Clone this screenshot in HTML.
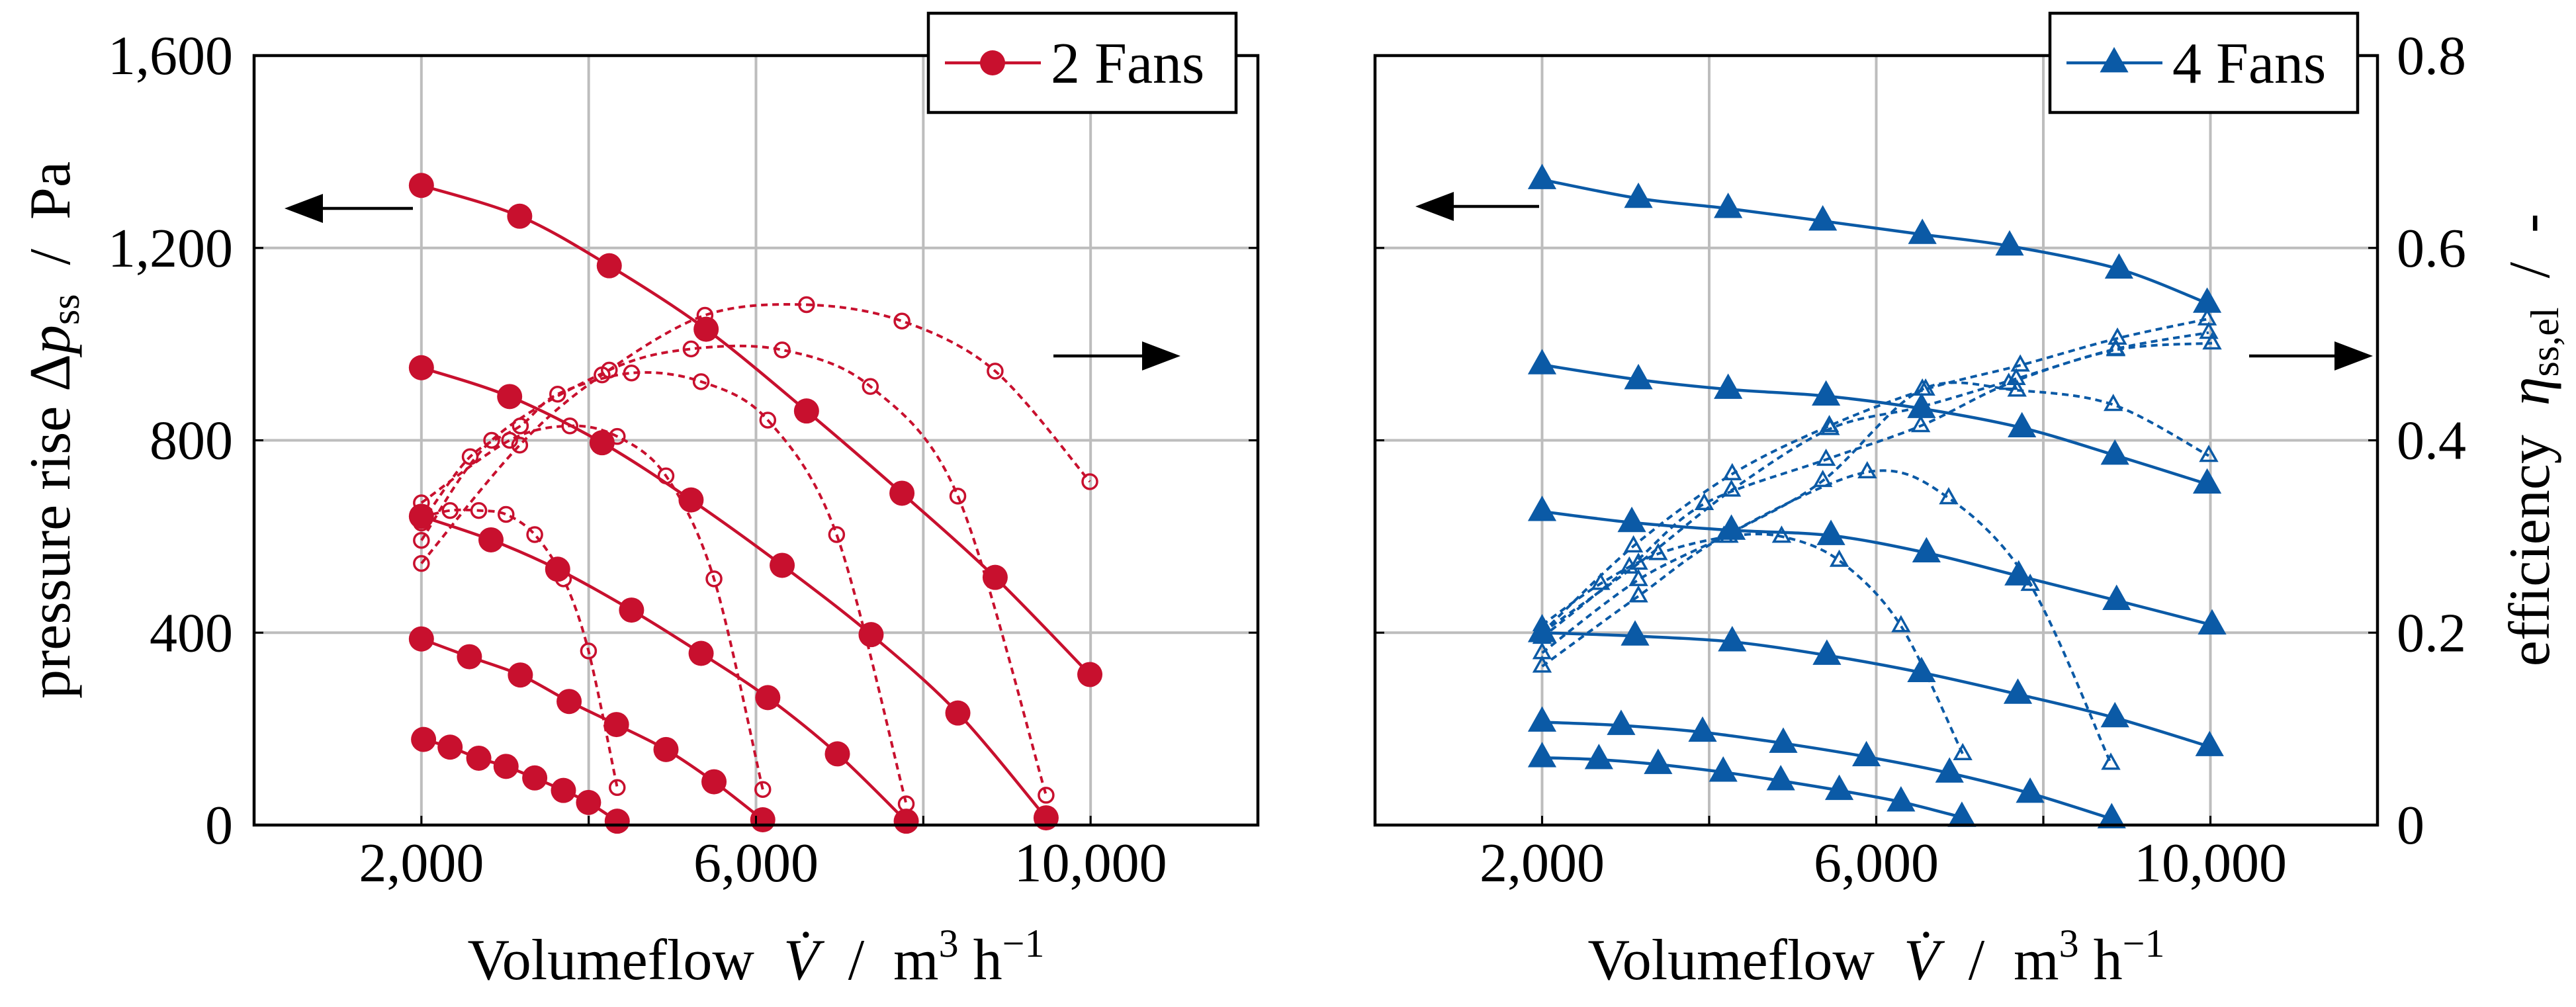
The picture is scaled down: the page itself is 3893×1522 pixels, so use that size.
<!DOCTYPE html>
<html><head><meta charset="utf-8"><style>
html,body{margin:0;padding:0;background:#fff}
svg{display:block}
text{font-family:"Liberation Serif",serif;fill:#000;white-space:pre}
</style></head><body>
<svg id="chart" xmlns="http://www.w3.org/2000/svg" width="3893" height="1522" viewBox="0 0 3893 1522">
<rect width="3893" height="1522" fill="#fff"/>
<g id="root"></g>
</svg>
<script>
const xTicks=[2000,4000,6000,8000,10000];
const xTickLabels=["2,000","","6,000","","10,000"];
const pTicks=[0,400,800,1200,1600];
const pTickLabels=["0","400","800","1,200","1,600"];
const etaTicks=[0,0.2,0.4,0.6,0.8];
const etaTickLabels=["0","0.2","0.4","0.6","0.8"];

// 2 fans: pressure curves
const p2x=[[2000,3175,4246,5404,6604,7745,8859,9991],[2000,3055,4160,5224,6313,7376,8413,9468],[2000,2832,3629,4512,5344,6141,6973,7796],[2000,2574,3183,3766,4332,4924,5498,6081],[2026,2343,2686,3012,3355,3698,3998,4341]];
const p2y=[[1330,1266,1163,1031,861,690,515,313],[951,891,795,676,540,396,233,15],[642,593,532,447,357,265,148,8],[387,350,312,257,209,157,90,11],[178,162,139,122,98,72,47,8]];
// 2 fans: efficiency curves
const e2x=[[2000,3175,4160,5390,6604,7745,8859,9991],[2000,2840,4246,5224,6313,7367,8413,9468],[2000,2583,3183,3629,4512,5344,6141,6964,7796],[2000,3055,3775,4341,4924,5498,6081],[2000,2343,2686,3012,3355,3698,3998,4341]];
const e2y=[[0.272,0.395,0.468,0.53,0.541,0.524,0.472,0.357],[0.296,0.40,0.473,0.495,0.494,0.456,0.342,0.031],[0.314,0.383,0.415,0.448,0.47,0.461,0.421,0.302,0.022],[0.335,0.40,0.415,0.404,0.363,0.256,0.037],[0.32,0.327,0.327,0.323,0.302,0.256,0.181,0.039]];
// 4 fans: pressure curves
const p4x=[[2000,3153,4227,5360,6552,7596,8906,9961],[2000,3153,4227,5399,6542,7744,8857,9961],[2000,3074,4266,5458,6601,7705,8877,10020],[2000,3113,4276,5409,6542,7695,8857,9990],[2000,2946,3921,4887,5882,6877,7842,8818],[2000,2680,3389,4168,4857,5557,6296,7025]];
const p4y=[[1342,1303,1282,1256,1228,1204,1156,1085],[957,926,906,892,866,826,769,709],[652,629,613,602,566,518,467,416],[400,393,381,353,317,272,223,163],[214,207,193,170,142,108,66,13],[140,136,126,110,92,72,48,16]];
// 4 fans: efficiency curves
const e4x=[[2000,3094,4276,5438,6591,7724,8887,9961],[2000,3153,4266,5448,6542,7675,8867,9980],[2000,3044,3941,5399,6532,7586,8867,10020],[2000,3153,4266,5360,6552,7685,8837,9980],[2000,3153,4177,5892,6867,7843,8808],[2000,2700,3389,4237,4867,5557,6296,7035]];
const e4y=[[0.2,0.29,0.365,0.415,0.453,0.478,0.506,0.526],[0.2,0.272,0.348,0.412,0.435,0.464,0.495,0.512],[0.195,0.268,0.334,0.38,0.415,0.459,0.494,0.501],[0.179,0.255,0.304,0.358,0.453,0.452,0.437,0.384],[0.165,0.238,0.3,0.367,0.34,0.25,0.064],[0.208,0.251,0.282,0.3,0.3,0.275,0.207,0.074]];

const NS="http://www.w3.org/2000/svg";
const root=document.getElementById('root');
function el(tag,attrs,parent){const e=document.createElementNS(NS,tag);for(const k in attrs)e.setAttribute(k,attrs[k]);(parent||root).appendChild(e);return e;}
const yTop=84,yBot=1247;
function py(v){return yBot-(v/1600)*(yBot-yTop);}
function ey(v){return yBot-(v/0.8)*(yBot-yTop);}
function makeX(l,r){return v=>l+(v/12000)*(r-l);}
const RED="#c8102e",BLUE="#0b5aa6";

function smoothPath(pts){
  let d="M"+pts[0][0]+","+pts[0][1];
  for(let i=0;i<pts.length-1;i++){
    const p0=pts[Math.max(0,i-1)],p1=pts[i],p2=pts[i+1],p3=pts[Math.min(pts.length-1,i+2)];
    const t=0.16;
    const c1=[p1[0]+(p2[0]-p0[0])*t,p1[1]+(p2[1]-p0[1])*t];
    const c2=[p2[0]-(p3[0]-p1[0])*t,p2[1]-(p3[1]-p1[1])*t];
    d+=" C"+c1[0]+","+c1[1]+" "+c2[0]+","+c2[1]+" "+p2[0]+","+p2[1];
  }
  return d;
}
function tri(x,y,s){return (x)+","+(y-s)+" "+(x+s*0.9)+","+(y+s*0.6)+" "+(x-s*0.9)+","+(y+s*0.6);}

function panel(l,r,isLeft){
  const sx=makeX(l,r);
  const g=el('g',{});
  
  
  xTicks.forEach(v=>{const ln=el('line',{x1:sx(v),x2:sx(v),y1:yTop,y2:yBot,stroke:'#bdbdbd','stroke-width':4},g);
    
    });
  pTicks.slice(1,4).forEach(v=>{const ln=el('line',{x1:l,x2:r,y1:py(v),y2:py(v),stroke:'#bdbdbd','stroke-width':4},g);
    
    });
  xTicks.forEach((v,i)=>{if(!xTickLabels[i])return;const t=el('text',{x:sx(v),y:1332,'font-size':84,'text-anchor':'middle'},g);t.textContent=xTickLabels[i];
    
    });
  const xt=el('text',{x:(l+r)/2,y:1480,'font-size':88,'text-anchor':'middle'},g);
  
  
  xt.innerHTML='Volumeflow  <tspan font-style="italic">V̇</tspan>  /  m<tspan font-size="60" dy="-34">3</tspan><tspan dy="34"> h</tspan><tspan font-size="60" dy="-34">−1</tspan>';
  const color=isLeft?RED:BLUE;
  const PX=isLeft?p2x:p4x, PY=isLeft?p2y:p4y, EX=isLeft?e2x:e4x, EY=isLeft?e2y:e4y;
  EX.forEach((xs,ci)=>{
    const pts=xs.map((x,i)=>[sx(x),ey(EY[ci][i])]);
    const p=el('path',{d:smoothPath(pts),fill:'none',stroke:color,'stroke-width':4,'stroke-dasharray':'10,7'},g);
    
    
    pts.forEach(pt=>{
      let m;
      if(isLeft) m=el('circle',{cx:pt[0],cy:pt[1],r:11,fill:'none',stroke:color,'stroke-width':3.5},g);
      else m=el('polygon',{points:tri(pt[0],pt[1],13),fill:'none',stroke:color,'stroke-width':3.5},g);
      
      
    });
  });
  PX.forEach((xs,ci)=>{
    const pts=xs.map((x,i)=>[sx(x),py(PY[ci][i])]);
    const p=el('path',{d:smoothPath(pts),fill:'none',stroke:color,'stroke-width':4.5},g);
    
    
    pts.forEach(pt=>{
      let m;
      if(isLeft) m=el('circle',{cx:pt[0],cy:pt[1],r:19,fill:color},g);
      else m=el('polygon',{points:tri(pt[0],pt[1],24),fill:color},g);
      
      
    });
  });
  const fr=el('rect',{x:l,y:yTop,width:r-l,height:yBot-yTop,fill:'none',stroke:'#000','stroke-width':4.5},g);
  
  
  pTicks.forEach(v=>{el('line',{x1:l,x2:l+14,y1:py(v),y2:py(v),stroke:'#000','stroke-width':3},g);el('line',{x1:r,x2:r-14,y1:py(v),y2:py(v),stroke:'#000','stroke-width':3},g);});
  xTicks.forEach(v=>{el('line',{x1:sx(v),x2:sx(v),y1:yBot,y2:yBot-14,stroke:'#000','stroke-width':3},g);});
  return sx;
}

function arrow(x1,x2,y,headLeft,name){
  const g=el('g',{});
  
  
  if(headLeft){el('line',{x1:x1+50,x2:x2,y1:y,y2:y,stroke:'#000','stroke-width':4.5},g);
    el('polygon',{points:x1+','+y+' '+(x1+58)+','+(y-22)+' '+(x1+58)+','+(y+22),fill:'#000'},g);}
  else{el('line',{x1:x1,x2:x2-50,y1:y,y2:y,stroke:'#000','stroke-width':4.5},g);
    el('polygon',{points:x2+','+y+' '+(x2-58)+','+(y-22)+' '+(x2-58)+','+(y+22),fill:'#000'},g);}
}

function legend(x,y,w,h,color,isLeft,label,name){
  const g=el('g',{});
  
  
  el('rect',{x:x,y:y,width:w,height:h,fill:'#fff',stroke:'#000','stroke-width':4.5},g);
  const cy=y+h/2;
  el('line',{x1:x+25,x2:x+170,y1:cy,y2:cy,stroke:color,'stroke-width':4.5},g);
  if(isLeft) el('circle',{cx:x+97,cy:cy,r:19,fill:color},g);
  else el('polygon',{points:tri(x+97,cy,24),fill:color},g);
  const t=el('text',{x:x+185,y:cy+30,'font-size':88},g);t.textContent=label;
}

panel(384,1901,true);
pTicks.forEach((v,i)=>{const t=el('text',{x:352,y:py(v)+28,'font-size':84,'text-anchor':'end'});t.textContent=pTickLabels[i];
  
  });
const yt=el('text',{x:0,y:0,'font-size':88,'text-anchor':'middle',transform:'translate(105,650) rotate(-90)'});


yt.innerHTML='pressure rise Δ<tspan font-style="italic">p</tspan><tspan font-size="60" dy="14">ss</tspan><tspan dy="-14">  /  Pa</tspan>';
arrow(430,624,315,true,'left-arrow-pressure');
arrow(1592,1784,538,false,'right-arrow-efficiency');
legend(1403,20,465,150,RED,true,'2 Fans','legend-2-fans');

panel(2078,3593,false);
etaTicks.forEach((v,i)=>{const t=el('text',{x:3622,y:ey(v)+28,'font-size':84,'text-anchor':'start'});t.textContent=etaTickLabels[i];
  
  });
const y2=el('text',{x:0,y:0,'font-size':88,'text-anchor':'middle',transform:'translate(3852,665) rotate(-90)'});


y2.innerHTML='efficiency  <tspan font-style="italic">η</tspan><tspan font-size="60" dy="14">ss,el</tspan><tspan dy="-14">  /  -</tspan>';
arrow(2139,2326,312,true,'left-arrow-pressure-4');
arrow(3399,3586,538,false,'right-arrow-efficiency-4');
legend(3098,20,465,150,BLUE,false,'4 Fans','legend-4-fans');
</script>
</body></html>
